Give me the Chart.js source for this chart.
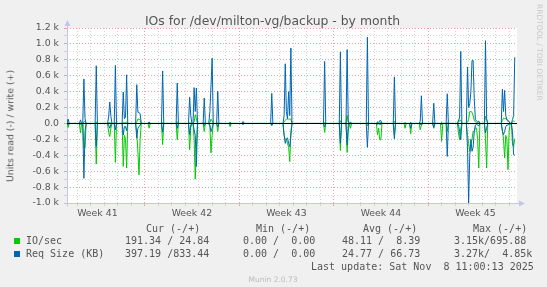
<!DOCTYPE html>
<html><head><meta charset="utf-8">
<script src="https://cdn.jsdelivr.net/npm/chart.js@4/dist/chart.umd.min.js"></script>
<style>
html,body{margin:0;padding:0;background:#f0f0f0;}
#wrap{position:relative;width:547px;height:287px;overflow:hidden;background:#f0f0f0;}
#c{position:absolute;left:0;top:0;}
.t{position:absolute;white-space:pre;line-height:1;}
.mono{font-family:"DejaVu Sans Mono",monospace;font-size:10px;color:#555;}
.sq{position:absolute;width:6px;height:6px;}
</style></head><body>
<div id="wrap">
<canvas id="c" width="547" height="287"></canvas>
<div class="t" style="left:0;width:545px;text-align:center;top:15px;font-family:'DejaVu Sans';font-size:12.4px;color:#555">IOs for /dev/milton-vg/backup - by month</div>
<div class="t" style="left:10px;top:125.8px;transform:translate(-50%,-50%) rotate(-90deg);font-family:'DejaVu Sans';font-size:9.33px;color:#555">Units read (-) / write (+)</div>
<div class="t" style="left:535px;top:4px;writing-mode:vertical-rl;font-family:'DejaVu Sans';font-size:7.5px;color:#c8c8c8">RRDTOOL / TOBI OETIKER</div>
<div class="t mono" style="left:146px;top:224.2px">Cur (-/+)</div>
<div class="t mono" style="left:256px;top:224.2px">Min (-/+)</div>
<div class="t mono" style="left:363px;top:224.2px">Avg (-/+)</div>
<div class="t mono" style="left:473px;top:224.2px">Max (-/+)</div>
<div class="sq" style="left:14px;top:238px;background:#00cc00"></div>
<div class="t mono" style="left:26px;top:236.2px">IO/sec</div>
<div class="t mono" style="left:125px;top:236.2px">191.34 / 24.84</div>
<div class="t mono" style="left:243px;top:236.2px">0.00 /  0.00</div>
<div class="t mono" style="left:342px;top:236.2px">48.11 /  8.39</div>
<div class="t mono" style="left:454px;top:236.2px">3.15k/695.88</div>
<div class="sq" style="left:14px;top:251px;background:#0066b3"></div>
<div class="t mono" style="left:26px;top:249.2px">Req Size (KB)</div>
<div class="t mono" style="left:125px;top:249.2px">397.19 /833.44</div>
<div class="t mono" style="left:243px;top:249.2px">0.00 /  0.00</div>
<div class="t mono" style="left:342px;top:249.2px">24.77 / 66.73</div>
<div class="t mono" style="left:454px;top:249.2px">3.27k/  4.85k</div>
<div class="t mono" style="left:311px;top:262.2px">Last update: Sat Nov  8 11:00:13 2025</div>
<div class="t" style="left:0;width:546px;text-align:center;top:275.8px;font-family:'DejaVu Sans';font-size:7.5px;color:#bbbbbb">Munin 2.0.73</div>
</div>
<script>
// x positions: hours relative to the start of the Week 42 grid line
const hours = [
  -138, -136, -134,
  -116, -114, -112,
  -110, -108, -106, -104,
  -88, -86, -84,
  -66, -64, -62, -60, -58,
  -54, -52, -50,
  -40, -38, -36, -34, -32, -30,
  -16, -14, -12, -10, -8, -6,
  6, 8, 10,
  30, 32, 34,
  56, 58, 60,
  78, 80, 82, 84,
  86, 88, 90, 92, 94,
  104, 106, 108,
  114, 116, 118, 120, 122,
  128, 130, 132,
  150, 152, 154,
  173, 175, 177,
  224, 226, 228,
  246, 248, 250, 252, 254, 256, 258, 260, 262,
  318, 320, 322,
  346, 348, 350,
  358, 360, 362, 364, 366, 368,
  394, 396, 398,
  412, 414, 416, 418, 420, 422,
  442, 444, 446,
  461, 463, 465,
  471, 473, 475,
  488, 490, 492, 494,
  512, 514, 516,
  526, 528, 530,
  536, 538, 540,
  556, 558, 560, 562, 564,
  572, 574, 576, 578, 580, 582, 584, 586, 588, 590, 592, 594, 596,
  604, 606, 608, 610,
  634, 636, 638, 640, 642, 644, 646, 648, 650,
  652, 654, 656, 658
];
// IO/sec read (plotted negative)
const ioRead = [
  0, 50, 0,
  0, 120, 0,
  0, 300, 310, 0,
  0, 510, 0,
  0, 110, 165, 60, 0,
  0, 490, 0,
  0, 540, 150, 200, 560, 0,
  0, 120, 350, 645, 200, 0,
  0, 60, 0,
  0, 265, 0,
  0, 205, 0,
  0, 330, 50, 0,
  0, 200, 700, 300, 0,
  0, 100, 0,
  0, 40, 370, 150, 0,
  0, 100, 0,
  0, 40, 0,
  0, 10, 0,
  0, 30, 0,
  0, 150, 200, 200, 250, 300, 480, 100, 0,
  0, 113, 0,
  0, 340, 0,
  0, 365, 100, 0, 60, 0,
  0, 30, 0,
  0, 140, 60, 205, 205, 0,
  0, 143, 0,
  0, 60, 0,
  0, 130, 0,
  0, 80, 20, 0,
  0, 40, 0,
  0, 226, 0,
  0, 100, 0,
  0, 120, 205, 60, 0,
  0, 150, 250, 350, 250, 200, 100, 100, 50, 60, 200, 560, 0,
  0, 200, 560, 0,
  0, 80, 200, 435, 150, 200, 580, 100, 0,
  0, 270, 290, 191
];
// IO/sec write (plotted positive)
const ioWrite = [
  0, 5, 0,
  0, 5, 0,
  0, 20, 25, 0,
  0, 20, 0,
  0, 10, 10, 5, 0,
  0, 10, 0,
  0, 15, 10, 10, 20, 0,
  0, 20, 55, 55, 40, 0,
  0, 10, 0,
  0, 10, 0,
  0, 20, 0,
  0, 10, 5, 0,
  0, 20, 110, 60, 0,
  0, 10, 0,
  0, 10, 55, 30, 0,
  0, 10, 0,
  0, 5, 0,
  0, 0, 0,
  0, 5, 0,
  0, 20, 40, 55, 55, 55, 55, 55, 0,
  0, 10, 0,
  0, 35, 0,
  0, 100, 20, 0, 0, 0,
  0, 10, 0,
  0, 5, 0, 10, 10, 0,
  0, 25, 0,
  0, 0, 0,
  0, 5, 0,
  0, 5, 5, 0,
  0, 10, 0,
  0, 5, 0,
  0, 10, 0,
  0, 40, 30, 45, 0,
  0, 20, 50, 150, 150, 140, 100, 40, 20, 10, 10, 20, 0,
  0, 88, 40, 0,
  0, 40, 65, 60, 65, 40, 30, 20, 0,
  0, 20, 30, 25
];
// Req Size (KB) read (plotted negative)
const reqRead = [
  0, 15, 0,
  0, 10, 0,
  0, 690, 100, 0,
  0, 290, 0,
  0, 20, 60, 10, 0,
  0, 80, 0,
  0, 145, 40, 40, 90, 0,
  0, 185, 60, 40, 20, 0,
  0, 5, 0,
  0, 110, 0,
  0, 60, 0,
  0, 140, 20, 0,
  0, 80, 150, 540, 0,
  0, 30, 0,
  0, 20, 100, 60, 0,
  0, 40, 0,
  0, 10, 0,
  0, 10, 0,
  0, 20, 0,
  0, 150, 250, 200, 180, 250, 290, 150, 0,
  0, 40, 0,
  0, 250, 0,
  0, 270, 20, 0, 5, 0,
  0, 300, 0,
  0, 10, 5, 10, 10, 0,
  0, 193, 0,
  0, 5, 0,
  0, 60, 0,
  0, 10, 20, 0,
  0, 60, 0,
  0, 10, 0,
  0, 415, 0,
  0, 20, 100, 205, 0,
  0, 300, 1000, 400, 200, 350, 300, 100, 20, 10, 20, 30, 0,
  0, 120, 60, 0,
  0, 100, 140, 100, 40, 20, 20, 10, 0,
  0, 100, 394, 397
];
// Req Size (KB) write (plotted positive)
const reqWrite = [
  0, 55, 0,
  0, 45, 0,
  0, 560, 60, 0,
  0, 725, 0,
  0, 80, 270, 90, 0,
  0, 730, 0,
  0, 395, 60, 80, 612, 0,
  0, 487, 140, 140, 120, 0,
  0, 20, 0,
  0, 660, 0,
  0, 508, 0,
  0, 330, 100, 0,
  0, 450, 150, 445, 0,
  0, 320, 0,
  0, 150, 470, 820, 0,
  0, 405, 0,
  0, 15, 0,
  0, 25, 0,
  0, 378, 0,
  0, 100, 750, 150, 60, 400, 100, 948, 0,
  0, 780, 0,
  0, 900, 0,
  0, 928, 30, 0, 20, 0,
  0, 1085, 0,
  0, 20, 10, 35, 35, 0,
  0, 585, 0,
  0, 10, 0,
  0, 15, 0,
  0, 30, 348, 0,
  0, 255, 0,
  0, 10, 0,
  0, 373, 0,
  0, 30, 80, 905, 0,
  0, 708, 200, 250, 400, 790, 790, 310, 50, 30, 20, 30, 0,
  0, 1040, 60, 0,
  0, 432, 150, 415, 100, 50, 40, 20, 0,
  0, 50, 100, 833
];
// axis range and tick labels
const xRange = [-138, 662];
const weekCenters = [-84, 84, 252, 420, 588];
const weekLabels = ['Week 41', 'Week 42', 'Week 43', 'Week 44', 'Week 45'];
const yRange = [-1000, 1200];
const yTickValues = [-1000, -800, -600, -400, -200, 0, 200, 400, 600, 800, 1000, 1200];
const yTickLabels = ['-1.0 k', '-0.8 k', '-0.6 k', '-0.4 k', '-0.2 k', '0.0', '0.2 k', '0.4 k', '0.6 k', '0.8 k', '1.0 k', '1.2 k'];

const GREEN = '#00cc00', BLUE = '#0066b3';
const MINOR = '#d2d2d2', MAJOR = '#eea0a0', AXIS = '#c4c4ec';

const pts = (arr, sign) => hours.map((h, i) => ({x: h, y: sign * arr[i]}));

const plotDeco = {
  id: 'plotDeco',
  beforeDraw(chart) {
    const {ctx, chartArea: a} = chart;
    ctx.save();
    ctx.fillStyle = '#ffffff';
    ctx.fillRect(a.left, a.top, a.right - a.left, a.bottom - a.top);
    ctx.restore();
  },
  beforeDatasetsDraw(chart) {
    const {ctx, chartArea: a} = chart;
    const L = Math.round(a.left) + 0.5, B = Math.round(a.bottom) + 0.5;
    ctx.save();
    ctx.strokeStyle = AXIS; ctx.fillStyle = AXIS; ctx.lineWidth = 1; ctx.setLineDash([]);
    ctx.beginPath(); ctx.moveTo(L, B + 3); ctx.lineTo(L, a.top - 3); ctx.stroke();
    ctx.beginPath(); ctx.moveTo(L - 3, B); ctx.lineTo(a.right + 3, B); ctx.stroke();
    ctx.beginPath(); ctx.moveTo(L - 3, a.top - 2); ctx.lineTo(L + 3, a.top - 2); ctx.lineTo(L, a.top - 8); ctx.closePath(); ctx.fill();
    ctx.beginPath(); ctx.moveTo(a.right + 2, B - 3); ctx.lineTo(a.right + 2, B + 3); ctx.lineTo(a.right + 8, B); ctx.closePath(); ctx.fill();
    ctx.restore();
  },
  afterDatasetsDraw(chart) {
    const {ctx, chartArea: a, scales} = chart;
    const y0 = Math.round(scales.y.getPixelForValue(0)) + 0.5;
    ctx.save();
    ctx.strokeStyle = '#000000'; ctx.lineWidth = 1; ctx.setLineDash([]);
    ctx.beginPath(); ctx.moveTo(a.left, y0); ctx.lineTo(a.right, y0); ctx.stroke();
    ctx.restore();
  }
};

const xGridColor = (c) => {
  const v = c.tick ? c.tick.value : NaN;
  if (v % 168 === 0) return MAJOR;
  if (v % 24 === 0) return MINOR;
  return 'rgba(0,0,0,0)';
};
const yGridColor = (c) => {
  const v = c.tick ? c.tick.value : NaN;
  return (v % 200 === 0) ? MAJOR : MINOR;
};

Chart.defaults.font.family = "'DejaVu Sans'";

new Chart(document.getElementById('c'), {
  type: 'line',
  data: {
    datasets: [
      {label: 'Req Size write', data: pts(reqWrite, 1), borderColor: BLUE},
      {label: 'Req Size read', data: pts(reqRead, -1), borderColor: BLUE},
      {label: 'IO/sec write', data: pts(ioWrite, 1), borderColor: GREEN},
      {label: 'IO/sec read', data: pts(ioRead, -1), borderColor: GREEN}
    ].map(d => Object.assign(d, {borderWidth: 1, pointRadius: 0, tension: 0, fill: false}))
  },
  options: {
    responsive: false,
    devicePixelRatio: 1,
    animation: false,
    events: [],
    layout: {padding: {top: 28, right: 30, bottom: 66, left: 0}},
    plugins: {legend: {display: false}, tooltip: {enabled: false}, title: {display: false}},
    scales: {
      x: {
        type: 'linear', min: xRange[0], max: xRange[1],
        afterBuildTicks: (s) => {
          const vals = new Set(weekCenters);
          for (let v = Math.ceil(xRange[0] / 24) * 24; v <= xRange[1]; v += 24) vals.add(v);
          s.ticks = Array.from(vals).sort((p, q) => p - q).map(v => ({value: v}));
        },
        afterFit: (s) => { s.height = 18; },
        grid: {color: xGridColor, tickColor: xGridColor, lineWidth: 1, tickLength: 3, tickBorderDash: [], drawTicks: true},
        border: {display: false, dash: [1, 2]},
        ticks: {
          autoSkip: false, maxRotation: 0, minRotation: 0, padding: 2,
          color: '#555555', font: {size: 9.33},
          callback: (v) => { const i = weekCenters.indexOf(v); return i >= 0 ? weekLabels[i] : ''; }
        }
      },
      y: {
        type: 'linear', min: yRange[0], max: yRange[1],
        afterBuildTicks: (s) => {
          const t = [];
          for (let v = yRange[0]; v <= yRange[1]; v += 100) t.push({value: v});
          s.ticks = t;
        },
        afterFit: (s) => { s.width = 67; },
        grid: {color: yGridColor, tickColor: yGridColor, lineWidth: 1, tickLength: 3, tickBorderDash: [], drawTicks: true},
        border: {display: false, dash: [1, 2]},
        ticks: {
          autoSkip: false, padding: 5,
          color: '#555555', font: {size: 9.33},
          callback: (v) => { const i = yTickValues.indexOf(v); return i >= 0 ? yTickLabels[i] : ''; }
        }
      }
    }
  },
  plugins: [plotDeco]
});
</script>
</body></html>
